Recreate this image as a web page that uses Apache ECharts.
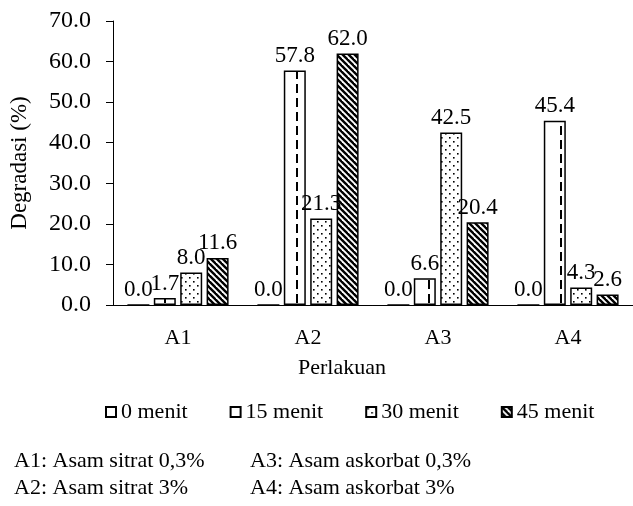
<!DOCTYPE html>
<html>
<head>
<meta charset="utf-8">
<script src="https://cdn.jsdelivr.net/npm/echarts@6/dist/echarts.min.js"></script>
<style>
  html, body { margin: 0; padding: 0; background: #fff; }
  #chart { width: 633px; height: 506px; }
</style>
</head>
<body>
<div id="chart"></div>
<script>
// data
const categories = ['A1', 'A2', 'A3', 'A4'];
const seriesNames = ['0 menit', '15 menit', '30 menit', '45 menit'];
const menit0 = [0.0, 0.0, 0.0, 0.0];
const menit15 = [1.7, 57.8, 6.6, 45.4];
const menit30 = [8.0, 21.3, 42.5, 4.3];
const menit45 = [11.6, 62.0, 20.4, 2.6];
const yTicks = [0, 10, 20, 30, 40, 50, 60, 70];
const notes = [
  'A1: Asam sitrat 0,3%', 'A2: Asam sitrat 3%',
  'A3: Asam askorbat 0,3%', 'A4: Asam askorbat 3%'
];

const FONT = 'Liberation Serif';
const FS = 22;

// small canvas tiles for the fill patterns
function makeTile(w, h, draw) {
  const c = document.createElement('canvas');
  c.width = w; c.height = h;
  const ctx = c.getContext('2d');
  ctx.fillStyle = '#fff';
  ctx.fillRect(0, 0, w, h);
  ctx.fillStyle = '#000';
  ctx.strokeStyle = '#000';
  draw(ctx);
  return c;
}

// 15 menit: dashed vertical line in the middle of the bar
const dashTile = makeTile(22, 14, ctx => {
  ctx.fillRect(10, 0, 2, 9);
});
// 30 menit: sparse dots
const dotTile = makeTile(8, 8, ctx => {
  ctx.fillRect(1, 1, 1.6, 1.6);
  ctx.fillRect(5, 5, 1.6, 1.6);
});
// 45 menit: wide downward diagonal
const stripeTile = makeTile(6, 6, ctx => {
  ctx.lineWidth = 2.4;
  [-6, 0, 6].forEach(k => {
    ctx.beginPath();
    ctx.moveTo(k - 1, -1);
    ctx.lineTo(k + 7, 7);
    ctx.stroke();
  });
});

const fills = [
  '#fff',
  { image: dashTile, repeat: 'repeat' },
  { image: dotTile, repeat: 'repeat' },
  { image: stripeTile, repeat: 'repeat' }
];
const values = [menit0, menit15, menit30, menit45];

const chart = echarts.init(document.getElementById('chart'));

const option = {
  animation: false,
  textStyle: { fontFamily: FONT, color: '#000' },
  grid: { left: 112, top: 21, width: 528, height: 284 },
  legend: {
    data: seriesNames,
    left: 100,
    top: 396,
    icon: 'rect',
    itemWidth: 10,
    itemHeight: 10,
    itemGap: 42,
    textStyle: { fontFamily: FONT, fontSize: FS, color: '#000' }
  },
  xAxis: {
    type: 'category',
    data: categories,
    axisLine: { lineStyle: { color: '#000', width: 1 } },
    axisTick: { alignWithLabel: true, length: 5, lineStyle: { color: '#000' } },
    axisLabel: { fontFamily: FONT, fontSize: FS, color: '#000', margin: 22 }
  },
  yAxis: {
    type: 'value',
    min: 0,
    max: 70,
    interval: 10,
    name: 'Degradasi (%)',
    nameLocation: 'middle',
    nameGap: 82,
    nameTextStyle: { fontFamily: FONT, fontSize: 23, color: '#000' },
    axisLine: { show: true, lineStyle: { color: '#000', width: 1 } },
    axisTick: { show: true, length: 7, lineStyle: { color: '#000' } },
    splitLine: { show: false },
    axisLabel: {
      fontFamily: FONT, fontSize: 24, color: '#000', margin: 22,
      customValues: yTicks,
      formatter: v => v.toFixed(1)
    }
  },
  series: seriesNames.map((name, i) => ({
    name,
    type: 'bar',
    data: values[i],
    barWidth: 22,
    barGap: '20%',
    itemStyle: { color: fills[i], borderColor: '#000', borderWidth: 1.5 },
    label: {
      show: true,
      position: 'top',
      distance: 3,
      fontFamily: FONT,
      fontSize: 23,
      color: '#000',
      formatter: p => p.value.toFixed(1)
    }
  })),
  graphic: [
    { type: 'text', left: 298, top: 357, style: { text: 'Perlakuan', font: FS + 'px ' + FONT, fill: '#000' } },
    { type: 'text', left: 14, top: 450, style: { text: notes[0], font: FS + 'px ' + FONT, fill: '#000' } },
    { type: 'text', left: 14, top: 477, style: { text: notes[1], font: FS + 'px ' + FONT, fill: '#000' } },
    { type: 'text', left: 250, top: 450, style: { text: notes[2], font: FS + 'px ' + FONT, fill: '#000' } },
    { type: 'text', left: 250, top: 477, style: { text: notes[3], font: FS + 'px ' + FONT, fill: '#000' } }
  ]
};

chart.setOption(option);
</script>
</body>
</html>
